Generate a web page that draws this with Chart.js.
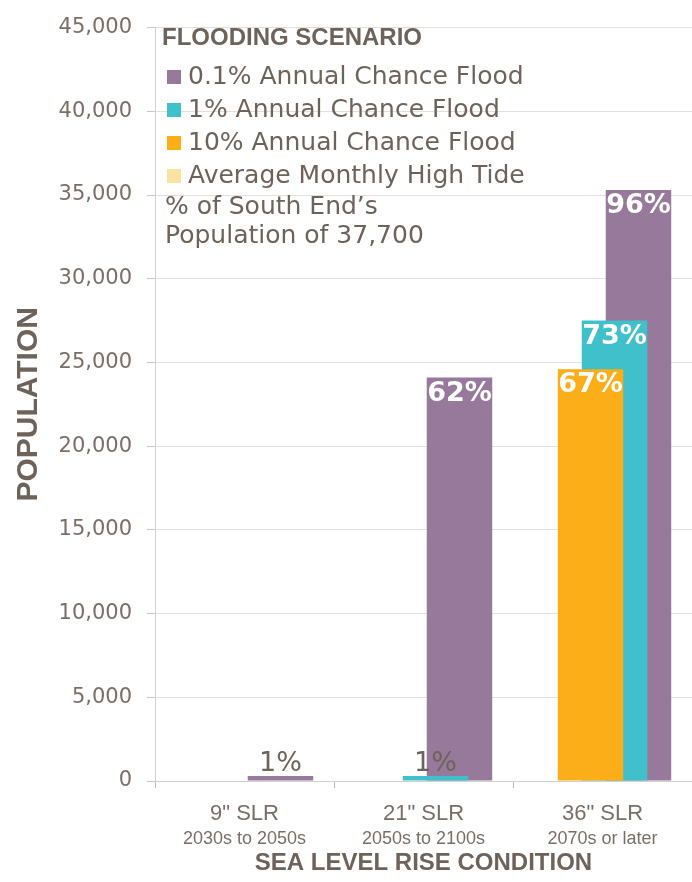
<!DOCTYPE html>
<html>
<head>
<meta charset="utf-8">
<script src="https://cdn.jsdelivr.net/npm/chart.js@4.4.1/dist/chart.umd.min.js"></script>
<style>
  body { margin: 0; background: #fff; }
  #wrap { width: 692px; height: 882px; }
</style>
</head>
<body>
<div id="wrap"><canvas id="floodChart" width="692" height="882"></canvas></div>
<script>
// categories
const slrLabels = ['9" SLR', '21" SLR', '36" SLR'];
const slrPeriods = ['2030s to 2050s', '2050s to 2100s', '2070s or later'];

// population exposed (order = left to right inside a group)
const highTide = [0, 0, 0];
const flood10 = [0, 0, 24600];
const flood1 = [0, 300, 27500];
const flood01 = [300, 24100, 35300];

// share of South End population printed on the bars
const pctHighTide = ['', '', ''];
const pct10 = ['', '', '67%'];
const pct1 = ['', '1%', '73%'];
const pct01 = ['1%', '62%', '96%'];

const legendTitle = 'FLOODING SCENARIO';
const legendNote = ['% of South End\u2019s', 'Population of 37,700'];

const textColor = '#6e635b';
const tickColor = '#7a6f68';

const legendBox = {
    id: 'legendBox',
    afterDraw(chart) {
        const { ctx, chartArea } = chart;
        const x = chartArea.left + 7;
        ctx.save();
        ctx.textBaseline = 'middle';
        ctx.textAlign = 'left';
        ctx.fillStyle = textColor;
        ctx.font = 'bold 24px "Liberation Sans", sans-serif';
        ctx.fillText(legendTitle, x, 38);

        ctx.font = '25px "DejaVu Sans", sans-serif';
        // legend reads top-down in reverse of the dataset order
        const sets = chart.data.datasets.slice().reverse();
        sets.forEach((ds, i) => {
            const cy = 77 + i * 33;
            ctx.fillStyle = ds.backgroundColor;
            ctx.fillRect(x + 5, cy - 7, 14, 14);
            ctx.fillStyle = textColor;
            ctx.fillText(ds.label, x + 26, cy);
        });
        legendNote.forEach((line, i) => {
            ctx.fillText(line, x + 3, 207 + i * 29);
        });
        ctx.restore();
    }
};

const pctLabels = {
    id: 'pctLabels',
    afterDatasetsDraw(chart) {
        const { ctx } = chart;
        ctx.save();
        ctx.textAlign = 'center';
        ctx.textBaseline = 'middle';
        chart.data.datasets.forEach((ds, di) => {
            const meta = chart.getDatasetMeta(di);
            meta.data.forEach((bar, i) => {
                const text = ds.pct[i];
                if (!text) return;
                if (bar.base - bar.y > 40) {
                    ctx.font = 'bold 27px "DejaVu Sans", sans-serif';
                    ctx.fillStyle = '#ffffff';
                    ctx.fillText(text, bar.x, bar.y + 16);
                } else {
                    ctx.font = '27px "DejaVu Sans", sans-serif';
                    ctx.fillStyle = textColor;
                    ctx.fillText(text, bar.x, bar.y - 12);
                }
            });
        });
        ctx.restore();
    }
};

const ctx = document.getElementById('floodChart').getContext('2d');

new Chart(ctx, {
    type: 'bar',
    data: {
        labels: slrLabels,
        datasets: [
            { label: 'Average Monthly High Tide', data: highTide, pct: pctHighTide, backgroundColor: '#fde1a0' },
            { label: '10% Annual Chance Flood', data: flood10, pct: pct10, backgroundColor: '#fbae17' },
            { label: '1% Annual Chance Flood', data: flood1, pct: pct1, backgroundColor: '#40c0cb' },
            { label: '0.1% Annual Chance Flood', data: flood01, pct: pct01, backgroundColor: '#97799b' }
        ]
    },
    options: {
        responsive: false,
        animation: false,
        categoryPercentage: 0.536,
        barPercentage: 2.73,
        layout: { padding: { top: 21, right: 0, bottom: 0, left: 0 } },
        plugins: {
            legend: { display: false },
            tooltip: { enabled: false }
        },
        scales: {
            y: {
                min: 0,
                max: 45000,
                ticks: {
                    stepSize: 5000,
                    padding: 15,
                    color: tickColor,
                    font: { family: '"DejaVu Sans", sans-serif', size: 21 },
                    callback: (v) => v.toLocaleString('en-US')
                },
                grid: { color: '#e2dfdd', tickColor: '#cbc6c3', tickLength: 8 },
                border: { color: '#d3cfcc' },
                title: {
                    display: true,
                    text: 'POPULATION',
                    color: textColor,
                    padding: { top: 11, bottom: 0 },
                    font: { family: '"Liberation Sans", sans-serif', size: 30, weight: 'bold' }
                },
                afterFit(scale) { scale.width = 155; }
            },
            x: {
                grid: { offset: true, drawOnChartArea: false, tickLength: 7, color: '#bdb8b5' },
                border: { color: '#d3cfcc' },
                ticks: {
                    padding: 13,
                    color: tickColor,
                    font: { family: '"Liberation Sans", sans-serif', size: 22 }
                },
                afterFit(scale) { scale.height = 45; }
            },
            x2: {
                type: 'category',
                position: 'bottom',
                labels: slrPeriods,
                offset: true,
                grid: { display: false, drawTicks: false },
                border: { display: false },
                ticks: {
                    padding: 2,
                    color: tickColor,
                    font: { family: '"Liberation Sans", sans-serif', size: 18 }
                },
                title: {
                    display: true,
                    text: 'SEA LEVEL RISE CONDITION',
                    color: textColor,
                    padding: { top: 0, bottom: 4 },
                    font: { family: '"Liberation Sans", sans-serif', size: 24, weight: 'bold' }
                },
                afterFit(scale) { scale.height = 56; }
            }
        }
    },
    plugins: [pctLabels, legendBox]
});
</script>
</body>
</html>
